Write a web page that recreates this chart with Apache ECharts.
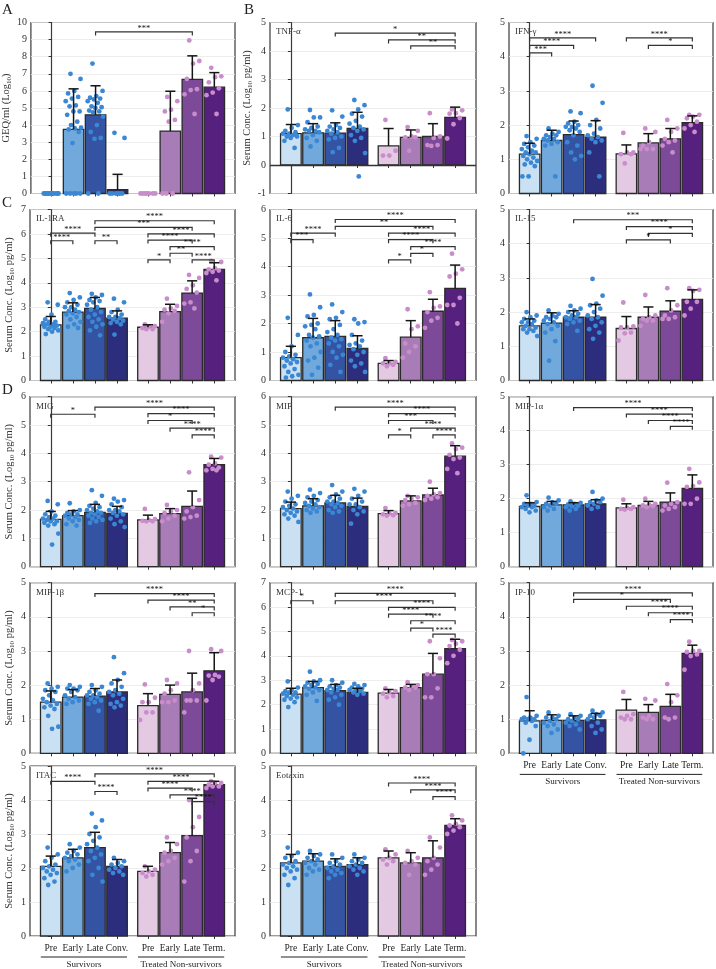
<!DOCTYPE html>
<html><head><meta charset="utf-8">
<script src="https://cdn.jsdelivr.net/npm/echarts@6/dist/echarts.min.js"></script>
<style>html,body{margin:0;padding:0;background:#fff;}#c{width:716px;height:969px;}</style>
</head><body><div id="c"></div><script>
// ---------- DATA ----------
const categories = ['Pre','Early','Late','Conv.','Pre','Early','Late','Term.'];
const groupLabels = ['Survivors','Treated Non-survivors'];

// A: GEQ/ml
const geqMeans = [0, 3.75, 4.6, 0.22, 0, 3.65, 6.67, 6.22];
const geqSD    = [0, 2.37, 1.7, 0.9, 0, 2.33, 1.38, 0.85];
const geqPoints = [
  [0,0,0,0,0,0,0,0,0,0,0,0],
  [7.0,6.7,6.0,5.85,5.65,5.55,5.4,5.15,5.1,4.8,4.8,4.6,4.2,4.0,3.85,3.8,3.75,3.6,2.95,0,0,0,0,0],
  [7.6,6.0,5.7,5.6,5.55,5.5,5.4,5.3,5.1,5.05,5.0,4.85,4.8,4.75,4.5,4.0,3.6,3.25,3.2,0,0],
  [3.55,3.25,0,0,0,0,0,0],
  [0,0,0,0,0,0,0],
  [5.65,5.4,4.9,4.8,4.3,4.2,0,0,0],
  [8.95,7.75,7.6,6.7,6.1,6.05,5.8,4.65],
  [7.35,6.85,6.8,6.5,6.15,5.9,5.75,4.65]
];
const geqSig = [[2,6,9.45,'***']];

// TNF-alpha
const tnfMeans = [1.1, 1.13, 1.12, 1.28, 0.67, 0.97, 1.0, 1.67];
const tnfSD    = [0.32, 0.32, 0.36, 0.57, 0.61, 0.26, 0.45, 0.36];
const tnfPoints = [
  [1.95,1.4,1.3,1.2,1.15,1.1,1.1,1.05,1.0,1.0,0.95,0.85,0.6],
  [1.93,1.67,1.67,1.5,1.35,1.3,1.25,1.2,1.2,1.15,1.05,0.95,0.85,0.65],
  [1.92,1.7,1.4,1.35,1.3,1.25,1.2,1.15,1.1,1.0,0.95,0.9,0.6,0.45],
  [2.28,2.1,1.95,1.8,1.7,1.55,1.45,1.35,1.3,1.25,1.2,1.05,0.95,0.85,0.42,-0.4],
  [1.58,0.5,0.33,0.33],
  [1.33,1.2,1.0,0.97,0.97,0.5],
  [1.82,1.0,0.95,0.7,0.7,0.67],
  [1.95,1.92,1.82,1.8,1.65,1.43,0.93]
];
const tnfSig = [[2,7,4.63,'*'],[4,7,4.39,'**'],[5,7,4.18,'**']];

// IFN-gamma
const ifnMeans = [1.15, 1.55, 1.72, 1.65, 1.16, 1.48, 1.6, 2.07];
const ifnSD    = [0.32, 0.3, 0.4, 0.48, 0.26, 0.27, 0.3, 0.2];
const ifnPoints = [
  [1.68,1.6,1.5,1.45,1.4,1.35,1.3,1.25,1.2,1.2,1.15,1.1,1.05,1.0,0.95,0.9,0.85,0.8,0.5,0.5],
  [1.9,1.8,1.75,1.7,1.7,1.65,1.6,1.6,1.55,1.5,1.45,1.4,0.5],
  [2.4,2.35,2.1,2.05,2.0,1.95,1.95,1.9,1.85,1.8,1.7,1.5,1.4,1.2,1.1,1.0],
  [3.15,2.65,2.15,2.0,1.9,1.75,1.7,1.65,1.6,1.55,1.5,1.2,0.5],
  [1.77,1.2,1.2,1.15,1.15,0.88],
  [1.9,1.8,1.5,1.4,1.3,1.3,1.3],
  [2.15,1.9,1.8,1.6,1.55,1.5,1.4,1.2],
  [2.3,2.3,2.25,2.2,2.1,2.0,1.9,1.8]
];
const ifnSig = [[0,3,4.55,'****'],[0,2,4.33,'****'],[0,1,4.11,'***'],[4,7,4.55,'****'],[5,7,4.33,'*']];

// IL-1RA
const il1raMeans = [2.28, 2.8, 2.95, 2.55, 2.18, 2.82, 3.58, 4.55];
const il1raSD    = [0.34, 0.38, 0.45, 0.3, 0.1, 0.3, 0.5, 0.27];
const il1raPoints = [
  [3.2,3.1,2.7,2.5,2.4,2.4,2.35,2.3,2.3,2.25,2.2,2.2,2.15,2.1,2.05,2.0,1.9],
  [3.58,3.4,3.3,3.2,3.1,3.0,3.0,2.9,2.85,2.8,2.75,2.7,2.6,2.5,2.4,2.3,2.2,2.15],
  [3.55,3.5,3.4,3.3,3.25,3.2,3.1,3.0,2.9,2.8,2.7,2.6,2.5,2.4,2.3,2.2,2.05,1.85],
  [3.35,3.2,2.9,2.8,2.7,2.6,2.6,2.55,2.5,2.45,2.4,2.35,2.3,1.88],
  [2.3,2.22,2.2,2.15,2.1,2.1],
  [3.35,3.05,2.95,2.9,2.85,2.75,2.4],
  [4.32,4.2,3.9,3.75,3.6,3.2,3.15,2.95],
  [4.9,4.85,4.6,4.55,4.5,4.45,4.4,4.1]
];
const il1raSig = [[0,2,6.03,'****'],[0,1,5.72,'****'],[2,3,5.72,'**'],
  [2,7,6.54,'****'],[2,6,6.27,'***'],[4,7,6.0,'****'],[4,6,5.75,'****'],[5,7,5.48,'****'],[5,6,5.21,'**'],[6,7,4.94,'****'],[4,5,4.94,'*']];

// IL-6
const il6Means = [0.8, 1.5, 1.55, 1.13, 0.6, 1.52, 2.43, 3.23];
const il6SD    = [0.4, 0.68, 0.55, 0.44, 0.1, 0.58, 0.42, 0.82];
const il6Points = [
  [2.2,1.6,1.2,1.0,0.9,0.85,0.8,0.75,0.7,0.65,0.6,0.5,0.4,0.3,0.2,0.15,0.1],
  [3.02,2.57,2.3,2.25,2.0,1.95,1.9,1.8,1.6,1.55,1.5,1.4,1.3,1.2,1.0,0.8,0.7,0.45,0.2],
  [2.67,2.4,2.2,2.15,1.95,1.8,1.7,1.6,1.5,1.45,1.4,1.3,1.2,1.0,0.9,0.8,0.55,0.3],
  [2.15,2.05,2.0,1.6,1.4,1.3,1.25,1.2,1.1,1.0,0.9,0.7,0.6,0.5,0.3],
  [0.78,0.65,0.6,0.6,0.55,0.5],
  [2.5,1.9,1.8,1.3,1.2,1.0,0.8],
  [3.1,2.6,2.55,2.4,2.2,2.1,1.85],
  [4.45,3.9,3.75,3.65,2.9,2.65,2.65,2.0]
];
const il6Sig = [[0,2,5.17,'****'],[0,1,4.94,'***'],
  [2,7,5.65,'****'],[2,6,5.41,'**'],[4,7,5.17,'****'],[4,6,4.94,'****'],[5,7,4.70,'****'],[5,6,4.46,'*'],[4,5,4.23,'*']];

// IL-15
const il15Means = [1.6, 1.68, 1.85, 1.85, 1.52, 1.85, 2.03, 2.37];
const il15SD    = [0.2, 0.3, 0.19, 0.37, 0.35, 0.3, 0.3, 0.28];
const il15Points = [
  [2.0,1.9,1.85,1.8,1.75,1.7,1.7,1.65,1.6,1.55,1.5,1.5,1.45,1.4,1.3],
  [2.05,1.95,1.9,1.85,1.85,1.8,1.75,1.7,1.65,1.6,1.5,1.4,1.15,0.58],
  [2.18,2.1,2.05,2.0,1.95,1.9,1.85,1.85,1.8,1.75,1.7,1.65,1.45],
  [2.97,2.48,2.25,2.2,2.1,2.0,1.9,1.85,1.8,1.7,1.6,1.5,1.4,1.22],
  [2.28,1.58,1.55,1.55,1.4,1.38,1.17],
  [2.5,1.9,1.85,1.8,1.75,1.75,1.6],
  [2.7,2.2,2.05,1.9,1.85,1.8,1.8],
  [2.7,2.65,2.62,2.3,2.3,2.1,1.9]
];
const il15Sig = [[2,7,4.70,'***'],[4,7,4.50,'****'],[5,7,4.30,'*'],[4,6,4.11,'*']];

// MIG
const migMeans = [1.67, 1.8, 1.92, 1.88, 1.65, 1.87, 2.13, 3.6];
const migSD    = [0.28, 0.18, 0.28, 0.25, 0.17, 0.18, 0.54, 0.22];
const migPoints = [
  [2.32,2.2,1.95,1.85,1.8,1.75,1.7,1.7,1.65,1.6,1.6,1.55,1.5,1.45,1.17,0.78],
  [2.24,2.0,1.95,1.9,1.85,1.85,1.8,1.75,1.7,1.65,1.6,1.5,1.45],
  [2.7,2.5,2.25,2.15,2.1,2.05,2.0,1.95,1.9,1.9,1.85,1.8,1.75,1.7,1.65,1.6,1.55],
  [2.4,2.35,2.3,2.2,2.1,2.0,2.0,1.95,1.9,1.85,1.8,1.7,1.6,1.5,1.4],
  [2.04,1.68,1.65,1.62,1.6,1.6],
  [2.18,2.0,1.95,1.9,1.8,1.7,1.6],
  [3.33,2.35,2.1,1.95,1.8,1.75,1.7],
  [3.88,3.85,3.65,3.6,3.5,3.45,3.4,3.4]
];
const migSig = [[0,2,5.38,'*'],[2,7,5.63,'****'],[4,7,5.40,'****'],[4,6,5.16,'*'],[5,7,4.89,'****'],[6,7,4.65,'****']];

// MIF
const mifMeans = [2.05, 2.15, 2.25, 2.13, 1.87, 2.32, 2.53, 3.9];
const mifSD    = [0.23, 0.25, 0.27, 0.29, 0.11, 0.18, 0.24, 0.37];
const mifPoints = [
  [2.65,2.5,2.4,2.3,2.2,2.15,2.1,2.05,2.0,1.95,1.9,1.85,1.8,1.7,1.58],
  [2.72,2.6,2.5,2.45,2.35,2.3,2.25,2.2,2.15,2.1,2.05,2.0,1.95,1.9],
  [2.88,2.65,2.55,2.45,2.4,2.3,2.3,2.25,2.2,2.15,2.1,2.0,1.95,1.9],
  [2.75,2.65,2.5,2.4,2.3,2.2,2.2,2.1,2.0,1.95,1.85,1.52],
  [2.07,1.9,1.88,1.85,1.82,1.8],
  [2.5,2.45,2.4,2.35,2.25,2.2,2.15],
  [3.0,2.6,2.55,2.5,2.45,2.4,2.35],
  [4.35,4.2,4.15,3.95,3.85,3.8,3.45,3.3]
];
const mifSig = [[2,7,5.63,'****'],[4,7,5.40,'****'],[4,6,5.16,'***'],[5,7,4.89,'****'],[6,7,4.65,'****'],[4,5,4.65,'*']];

// MIP-1alpha
const mip1aMeans = [1.77, 1.82, 1.82, 1.85, 1.73, 1.8, 1.9, 2.3];
const mip1aSD    = [0.11, 0.1, 0.06, 0.12, 0.12, 0.12, 0.27, 0.4];
const mip1aPoints = [
  [2.1,1.9,1.85,1.85,1.8,1.8,1.75,1.75,1.7,1.65,1.6],
  [2.03,1.95,1.9,1.85,1.85,1.8,1.75,1.7,1.65],
  [1.92,1.88,1.85,1.83,1.8,1.78,1.75,1.7,1.65],
  [2.2,2.0,1.95,1.9,1.9,1.85,1.8,1.75,1.7],
  [1.97,1.75,1.73,1.7,1.7,1.68],
  [2.0,1.85,1.82,1.8,1.78,1.75],
  [2.47,1.9,1.85,1.8,1.75,1.7,1.65],
  [2.88,2.48,2.37,2.35,2.0,1.85,1.85]
];
const mip1aSig = [[2,7,4.68,'****'],[4,7,4.49,'****'],[5,7,4.30,'****'],[6,7,4.13,'****']];

// MIP-1beta
const mip1bMeans = [1.5, 1.65, 1.68, 1.8, 1.4, 1.73, 1.8, 2.42];
const mip1bSD    = [0.33, 0.22, 0.22, 0.35, 0.35, 0.27, 0.55, 0.53];
const mip1bPoints = [
  [2.05,1.95,1.9,1.85,1.8,1.7,1.6,1.55,1.5,1.45,1.4,1.35,1.3,1.1,0.78,0.72],
  [2.0,1.95,1.9,1.9,1.85,1.8,1.7,1.65,1.6,1.55,1.5,1.45],
  [2.0,1.95,1.85,1.8,1.75,1.7,1.7,1.65,1.6,1.55,1.5,1.45,1.25],
  [2.82,2.35,2.15,2.05,1.95,1.85,1.8,1.75,1.7,1.6,1.5,1.45,1.4,1.35],
  [2.02,1.63,1.5,1.5,1.2,1.2,0.98],
  [2.15,2.05,1.85,1.75,1.55,1.5,1.5],
  [3.0,2.05,1.85,1.55,1.55,1.55,1.2],
  [3.05,3.0,2.3,2.28,2.25,2.15,1.55]
];
const mip1bSig = [[2,7,4.68,'****'],[4,7,4.49,'****'],[5,7,4.29,'**'],[6,7,4.12,'*']];

// MCP-1
const mcp1Means = [2.43, 2.7, 2.57, 2.5, 2.47, 2.7, 3.25, 4.3];
const mcp1SD    = [0.24, 0.25, 0.26, 0.17, 0.15, 0.13, 0.85, 0.38];
const mcp1Points = [
  [2.95,2.7,2.6,2.55,2.5,2.5,2.45,2.4,2.35,2.3,2.25,2.2,2.1,1.9],
  [3.35,3.0,2.95,2.9,2.85,2.8,2.75,2.7,2.65,2.6,2.5,2.4,2.15],
  [3.0,2.9,2.8,2.75,2.7,2.65,2.6,2.6,2.5,2.4,2.3,2.2,2.0],
  [2.85,2.8,2.75,2.7,2.65,2.6,2.6,2.55,2.5,2.45,2.4],
  [2.67,2.55,2.5,2.45,2.35,2.3],
  [2.92,2.8,2.75,2.7,2.7,2.6],
  [4.6,3.9,3.25,3.25,2.67,2.3,2.3],
  [4.65,4.6,4.5,4.4,4.25,4.0,3.7]
];
const mcp1Sig = [[0,1,6.26,'*'],[2,7,6.56,'****'],[2,6,6.26,'****'],[4,7,5.99,'****'],[4,6,5.71,'****'],[5,7,5.44,'****'],[5,6,5.14,'*'],[6,7,4.89,'****']];

// IP-10
const ip10Means = [0.95, 0.97, 0.97, 0.98, 1.27, 1.2, 1.38, 2.93];
const ip10SD    = [0.3, 0.16, 0.13, 0.19, 0.31, 0.23, 0.35, 0.24];
const ip10Points = [
  [1.65,1.1,1.05,1.05,1.0,1.0,1.0,0.95,0.9,0.8,0.4,0.0],
  [1.2,1.1,1.05,1.05,1.0,0.95,0.9,0.85,0.8,0.7,0.6],
  [1.15,1.1,1.05,1.0,1.0,0.95,0.9,0.85,0.8,0.7],
  [1.25,1.2,1.15,1.1,1.1,1.05,1.0,0.9,0.8,0.7,0.6],
  [1.8,1.15,1.1,1.05,1.0,1.0],
  [1.6,1.55,1.1,1.05,1.0,1.0],
  [2.03,1.7,1.5,1.05,1.05,1.0],
  [3.27,3.0,3.0,2.97,2.9,2.85,2.45]
];
const ip10Sig = [[2,7,4.70,'****'],[2,6,4.51,'*'],[4,7,4.31,'****'],[5,7,4.12,'****'],[6,7,3.92,'****']];

// ITAC
const itacMeans = [2.05, 2.3, 2.6, 2.05, 1.9, 2.45, 2.95, 4.45];
const itacSD    = [0.3, 0.25, 0.45, 0.2, 0.15, 0.3, 1.1, 0.1];
const itacPoints = [
  [2.6,2.4,2.3,2.2,2.1,2.05,2.0,1.95,1.9,1.85,1.8,1.7,1.6,1.5],
  [2.7,2.6,2.5,2.45,2.4,2.35,2.3,2.25,2.2,2.1,2.0,1.9],
  [3.6,3.4,3.2,3.0,2.9,2.8,2.7,2.6,2.5,2.4,2.3,2.2,2.0,1.8,1.6],
  [2.3,2.2,2.15,2.1,2.05,2.0,1.95,1.9,1.85,1.8],
  [2.05,1.95,1.9,1.85,1.8,1.75],
  [2.9,2.7,2.5,2.45,2.3,2.2,2.1],
  [4.0,3.5,3.2,2.9,2.5,2.2,1.6],
  [4.55,4.5,4.5,4.45,4.4,4.4,4.35]
];
const itacSig = [[0,2,4.55,'****'],[2,3,4.25,'****'],[2,7,4.77,'****'],[4,7,4.55,'****'],[4,6,4.35,'****'],[5,7,4.15,'****'],[6,7,3.95,'****']];

// Eotaxin
const eotMeans = [2.15, 2.2, 2.05, 2.1, 2.3, 2.15, 2.3, 3.25];
const eotSD    = [0.25, 0.22, 0.22, 0.2, 0.2, 0.3, 0.5, 0.2];
const eotPoints = [
  [2.6,2.45,2.35,2.3,2.2,2.15,2.1,2.05,2.0,1.95,1.9,1.8,1.7,1.5],
  [2.5,2.4,2.35,2.3,2.25,2.2,2.15,2.1,2.0,1.95,1.9,1.8],
  [2.4,2.3,2.2,2.15,2.1,2.05,2.0,1.95,1.9,1.85,1.8,1.7],
  [2.4,2.3,2.25,2.2,2.15,2.1,2.05,2.0,1.95,1.9,1.8],
  [2.55,2.4,2.3,2.25,2.2,2.1],
  [2.5,2.3,2.2,2.15,2.1,1.8],
  [2.9,2.6,2.3,2.2,2.1,1.95,1.8],
  [3.55,3.4,3.3,3.25,3.2,3.1,3.0]
];
const eotSig = [[4,7,4.5,'****'],[5,7,4.3,'****'],[6,7,4.1,'****']];

// ---------- LAYOUT / STYLE ----------
const xPos = [0,1,2,3,4.4,5.4,6.4,7.4];
const barColors = ['#c9e1f2','#72a9dc','#3553a3','#2c2d7c','#e4c9e3','#a77cb7','#7c4a99','#56207f'];
const ptColors = ['#3b87d3','#c88dca'];
const FONT = 'Liberation Serif';
const colLeft = [30, 270, 509], colW = [205, 206, 204];
const rowTop = [22.5, 209.5, 396.7, 582.7, 766], rowH = [171, 171, 170, 170.7, 170];
const SERUM = '{n|Serum Conc. (Log}{s|10}{n| pg/ml)}';

const panels = [
  {title:'', col:0,row:0,min:0,max:10,means:geqMeans,sd:geqSD,pts:geqPoints,sig:geqSig,name:'{n|GEQ/ml (Log}{s|10}{n|)}'},
  {title:'TNF-α',col:1,row:0,min:-1,max:5,means:tnfMeans,sd:tnfSD,pts:tnfPoints,sig:tnfSig,name:SERUM,zero:true},
  {title:'IFN-γ',col:2,row:0,min:0,max:5,means:ifnMeans,sd:ifnSD,pts:ifnPoints,sig:ifnSig},
  {title:'IL-1RA',col:0,row:1,min:0,max:7,means:il1raMeans,sd:il1raSD,pts:il1raPoints,sig:il1raSig,name:SERUM},
  {title:'IL-6',col:1,row:1,min:0,max:6,means:il6Means,sd:il6SD,pts:il6Points,sig:il6Sig},
  {title:'IL-15',col:2,row:1,min:0,max:5,means:il15Means,sd:il15SD,pts:il15Points,sig:il15Sig},
  {title:'MIG',col:0,row:2,min:0,max:6,means:migMeans,sd:migSD,pts:migPoints,sig:migSig,name:SERUM},
  {title:'MIF',col:1,row:2,min:0,max:6,means:mifMeans,sd:mifSD,pts:mifPoints,sig:mifSig},
  {title:'MIP-1α',col:2,row:2,min:0,max:5,means:mip1aMeans,sd:mip1aSD,pts:mip1aPoints,sig:mip1aSig},
  {title:'MIP-1β',col:0,row:3,min:0,max:5,means:mip1bMeans,sd:mip1bSD,pts:mip1bPoints,sig:mip1bSig,name:SERUM},
  {title:'MCP-1',col:1,row:3,min:0,max:7,means:mcp1Means,sd:mcp1SD,pts:mcp1Points,sig:mcp1Sig},
  {title:'IP-10',col:2,row:3,min:0,max:5,means:ip10Means,sd:ip10SD,pts:ip10Points,sig:ip10Sig,xlab:true},
  {title:'ITAC',col:0,row:4,min:0,max:5,means:itacMeans,sd:itacSD,pts:itacPoints,sig:itacSig,name:SERUM,xlab:true},
  {title:'Eotaxin',col:1,row:4,min:0,max:5,means:eotMeans,sd:eotSD,pts:eotPoints,sig:eotSig,xlab:true}
];

function nearestIdx(v){let b=0;for(let k=1;k<xPos.length;k++){if(Math.abs(xPos[k]-v)<Math.abs(xPos[b]-v))b=k;}return b;}
function jit(i){return (((i*0.6180339+0.31)%1)-0.5)*0.74;}

const option = {animation:false, backgroundColor:'#fff', grid:[], xAxis:[], yAxis:[], series:[], graphic:[]};

panels.forEach((p,i)=>{
  const L = colLeft[p.col], T = rowTop[p.row], W = colW[p.col], H = rowH[p.row];
  option.grid.push({left:L, top:T, width:W, height:H, show:true, borderColor:'#3a3a3a', borderWidth:1.2, backgroundColor:'transparent'});
  option.xAxis.push({gridIndex:i, type:'value', min:-0.94, max:8.34,
    axisLine:{show:false}, splitLine:{show:false},
    axisTick:{show:true, customValues:xPos, length:3, lineStyle:{color:'#333', width:1}},
    axisLabel:{show:!!p.xlab, customValues:xPos, formatter:v=>categories[nearestIdx(v)], fontFamily:FONT, fontSize:9.5, color:'#222', margin:7}});
  option.yAxis.push({gridIndex:i, type:'value', min:p.min, max:p.max, interval:1,
    axisLine:{show:true, lineStyle:{color:'#3a3a3a', width:1.2}},
    axisTick:{show:true, length:3, lineStyle:{color:'#333'}},
    axisLabel:{fontFamily:FONT, fontSize:10, color:'#333', margin:4},
    splitLine:{show:true, lineStyle:{color:'#e9e9e9', width:0.8}},
    name:p.name||'', nameLocation:'middle', nameGap:14,
    nameTextStyle:{fontFamily:FONT, color:'#333', rich:{n:{fontFamily:FONT,fontSize:10.5,color:'#333',lineHeight:13}, s:{fontFamily:FONT,fontSize:7,color:'#333',lineHeight:8,verticalAlign:'bottom'}}}});
  if (p.title) option.graphic.push({type:'text', left:L+6, top:T+5, style:{text:p.title, font:'9px "Liberation Serif"', fill:'#333'}});

  // bars
  option.series.push({type:'custom', xAxisIndex:i, yAxisIndex:i, z:2,
    data:p.means.map((m,k)=>[xPos[k], m, k]),
    renderItem:(params, api)=>{
      const x=api.value(0), y=api.value(1), k=api.value(2);
      if (!y) return null;
      const a=api.coord([x-0.465, 0]), b=api.coord([x+0.465, y]);
      return {type:'rect', shape:{x:a[0], y:Math.min(a[1],b[1]), width:b[0]-a[0], height:Math.abs(a[1]-b[1])},
        style:{fill:barColors[k], stroke:'#2a2a2a', lineWidth:1.3}};
    }});
  // points
  [0,1].forEach(g=>{
    const data=[];
    for (let k=g*4;k<g*4+4;k++){ p.pts[k].forEach((v,j)=>data.push([xPos[k]+jit(j), v])); }
    const s = {type:'scatter', xAxisIndex:i, yAxisIndex:i, z:3, symbolSize:4.8, data,
      itemStyle:{color:ptColors[g], opacity:1}, silent:true};
    if (p.zero && g===0) s.markLine = {silent:true, symbol:'none', label:{show:false}, data:[{yAxis:0}], lineStyle:{color:'#333', width:1.3, type:'solid'}};
    option.series.push(s);
  });
  // error bars
  option.series.push({type:'custom', xAxisIndex:i, yAxisIndex:i, z:4,
    data:p.means.map((m,k)=>[xPos[k], m, p.sd[k]]),
    renderItem:(params, api)=>{
      const x=api.value(0), m=api.value(1), s=api.value(2);
      if (!s) return null;
      const a=api.coord([x, m]), b=api.coord([x, m+s]), c1=api.coord([x-0.23, m+s]), c2=api.coord([x+0.23, m+s]);
      return {type:'group', children:[
        {type:'line', shape:{x1:a[0],y1:a[1],x2:b[0],y2:b[1]}, style:{stroke:'#151515', lineWidth:1.5}},
        {type:'line', shape:{x1:c1[0],y1:c1[1],x2:c2[0],y2:c2[1]}, style:{stroke:'#151515', lineWidth:1.5}}]};
    }});
  // significance brackets
  const sig = p.sig;
  option.series.push({type:'custom', xAxisIndex:i, yAxisIndex:i, z:5,
    data:sig.map(s=>[xPos[s[0]], xPos[s[1]], s[2]]),
    renderItem:(params, api)=>{
      const a=api.coord([api.value(0), api.value(2)]), b=api.coord([api.value(1), api.value(2)]);
      const t=sig[params.dataIndex][3];
      return {type:'group', children:[
        {type:'polyline', shape:{points:[[a[0],a[1]+3.5],[a[0],a[1]],[b[0],b[1]],[b[0],b[1]+3.5]]}, style:{stroke:'#333', lineWidth:1.2, fill:null}},
        {type:'text', style:{text:t, x:(a[0]+b[0])/2, y:a[1]+1, align:'center', verticalAlign:'bottom', font:'8.5px "Liberation Serif"', fill:'#111'}}]};
    }});
  // group labels
  if (p.xlab) {
    option.series.push({type:'custom', xAxisIndex:i, yAxisIndex:i, z:5,
      data:[[xPos[0], xPos[3], 0],[xPos[4], xPos[7], 1]],
      renderItem:(params, api)=>{
        const a=api.coord([api.value(0)-0.45, p.min]), b=api.coord([api.value(1)+0.45, p.min]);
        const yy=a[1]+21;
        return {type:'group', children:[
          {type:'line', shape:{x1:a[0],y1:yy,x2:b[0],y2:yy}, style:{stroke:'#222', lineWidth:1}},
          {type:'text', style:{text:groupLabels[api.value(2)], x:(a[0]+b[0])/2, y:yy+3, align:'center', verticalAlign:'top', font:'9px "Liberation Serif"', fill:'#222'}}]};
      }});
  }
});

option.graphic.push(
  {type:'text', left:2, top:3, style:{text:'A', font:'15px "Liberation Serif"', fill:'#222'}},
  {type:'text', left:244, top:3, style:{text:'B', font:'15px "Liberation Serif"', fill:'#222'}},
  {type:'text', left:2, top:196, style:{text:'C', font:'15px "Liberation Serif"', fill:'#222'}},
  {type:'text', left:2, top:383, style:{text:'D', font:'15px "Liberation Serif"', fill:'#222'}}
);

const chart = echarts.init(document.getElementById('c'), null, {renderer:'canvas'});
chart.setOption(option);
</script></body></html>
